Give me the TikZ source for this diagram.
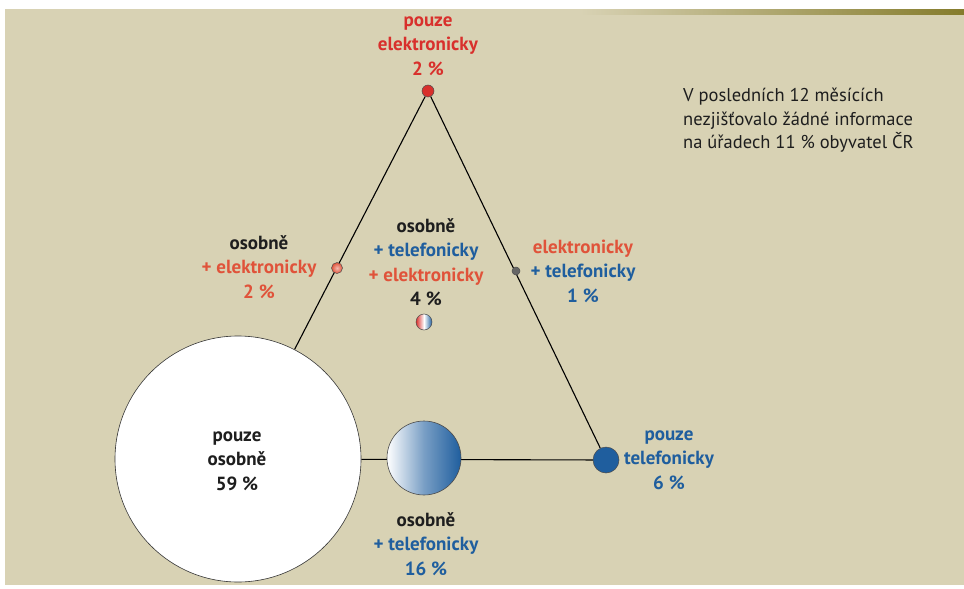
\documentclass[tikz,border=0pt]{standalone}
\usepackage{fontspec}
\setmainfont{PT Sans}
\definecolor{bg}{HTML}{D8D2B4}
\definecolor{olive}{HTML}{857C2C}
\definecolor{cred}{HTML}{D8302C}
\definecolor{corange}{HTML}{E0533A}
\definecolor{cblue}{HTML}{1F5E9E}
\definecolor{cdark}{HTML}{1E1E1E}
\pgfdeclarelayer{back}
\pgfdeclarelayer{lines}
\pgfsetlayers{back,lines,main}
\tikzset{
  lbl/.style={align=center, font=\bfseries\fontsize{19}{24.5}\selectfont, inner sep=0pt, text=cdark},
  note/.style={align=left, anchor=north west, font=\fontsize{18.5}{23.5}\selectfont, inner sep=0pt, text=cdark},
  conn/.style={line width=1.1pt, black},
  dotc/.style={circle, draw=black!70, line width=0.5pt, inner sep=0pt}
}
\begin{document}
\begin{tikzpicture}[x=1pt,y=-1pt]
\useasboundingbox (0,0) rectangle (964,589);
\begin{pgfonlayer}{back}
\fill[white] (0,0) rectangle (964,589);
\fill[bg] (5,9) rectangle (964,585);
\shade[left color=bg, right color=olive] (580,9) rectangle (964,14);
\end{pgfonlayer}

% nodes
\node[dotc, fill=cred, minimum size=12pt] (top) at (428,91) {};
\node[circle, draw=black!80, line width=0.6pt, fill=white, minimum size=246pt, inner sep=0pt] (big) at (238,459) {};
\node[circle, draw=black!70, line width=0.6pt, left color=white, right color=cblue, middle color=cblue!60, shading angle=90, minimum size=74pt, inner sep=0pt] (mid) at (424,458) {};
\node[dotc, fill=cblue, minimum size=26pt] (tel) at (606,460) {};
\node[dotc, inner color=white!60!corange, outer color=corange, minimum size=11pt] (oe) at (337,268) {};
\node[dotc, fill=gray!80!black, minimum size=8pt] (et) at (516,271) {};
\node[dotc, left color=cred, right color=cblue, middle color=white, minimum size=16pt] (ote) at (424,322) {};

\begin{pgfonlayer}{lines}
\draw[conn] (top) -- (big);
\draw[conn] (top) -- (tel);
\draw[conn] (big) -- (tel);
\end{pgfonlayer}

% labels
\node[lbl] (l1) at (428,46) {\textcolor{cred}{pouze}\\\textcolor{cred}{elektronicky}\\\textcolor{cred}{2 \%}};
\node[lbl] (l2) at (259,267) {osobně\\\textcolor{corange}{+ elektronicky}\\\textcolor{corange}{2 \%}};
\node[lbl] (l3) at (426,262) {osobně\\\textcolor{cblue}{+ telefonicky}\\\textcolor{corange}{+ elektronicky}\\4 \%};
\node[lbl] (l4) at (583,271) {\textcolor{corange}{elektronicky}\\\textcolor{cblue}{+ telefonicky}\\\textcolor{cblue}{1 \%}};
\node[lbl] (l5) at (669,460) {\textcolor{cblue}{pouze}\\\textcolor{cblue}{telefonicky}\\\textcolor{cblue}{6 \%}};
\node[lbl] (l6) at (237,461) {pouze\\osobně\\59 \%};
\node[lbl] (l7) at (426,544) {osobně\\\textcolor{cblue}{+ telefonicky}\\\textcolor{cblue}{16 \%}};
\node[note] (n) at (683,88) {V posledních 12 měsících\\nezjišťovalo žádné informace\\na úřadech 11 \% obyvatel ČR};
\end{tikzpicture}
\end{document}
